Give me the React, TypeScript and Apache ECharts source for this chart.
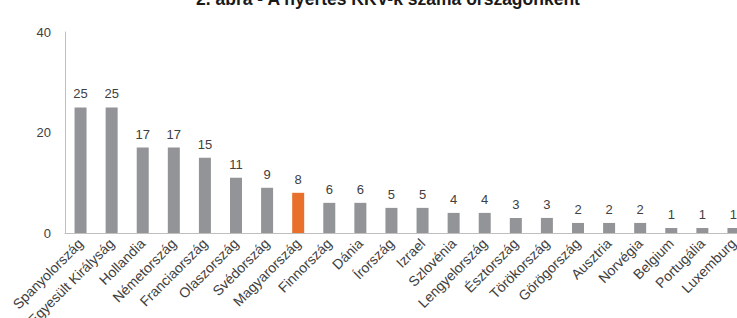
import React, { useEffect, useRef } from "react";
import * as echarts from "echarts";

const titleText = "2. ábra - A nyertes KKV-k száma országonként";
const countries = [
  "Spanyolország", "Egyesült Királyság", "Hollandia", "Németország", "Franciaország",
  "Olaszország", "Svédország", "Magyarország", "Finnország", "Dánia", "Írország",
  "Izrael", "Szlovénia", "Lengyelország", "Észtország", "Törökország", "Görögország",
  "Ausztria", "Norvégia", "Belgium", "Portugália", "Luxemburg",
];
const winners = [25, 25, 17, 17, 15, 11, 9, 8, 6, 6, 5, 5, 4, 4, 3, 3, 2, 2, 2, 1, 1, 1];
const highlight = "Magyarország";
const yTicks = [0, 20, 40];

export default function App() {
  const ref = useRef<HTMLDivElement>(null);
  useEffect(() => {
    if (!ref.current) return;
    const chart = echarts.init(ref.current, null, { renderer: "svg" });
    chart.setOption({
      animation: false,
      textStyle: { fontFamily: "Liberation Sans, Arial, sans-serif" },
      graphic: [
        {
          type: "text",
          x: 388,
          y: 8,
          style: {
            text: titleText,
            font: "bold 17.5px 'Liberation Sans', Arial, sans-serif",
            fill: "#1a1a1a",
            align: "center",
            verticalAlign: "bottom",
          },
        },
      ],
      grid: {
        left: 65,
        top: 32,
        right: 0,
        bottom: 85,
        containLabel: false,
        outerBoundsMode: "none",
      },
      xAxis: {
        type: "category",
        data: countries,
        axisLine: { lineStyle: { color: "#bfbfbf", width: 1 } },
        axisTick: { show: false },
        axisLabel: {
          interval: 0,
          rotate: 45,
          fontSize: 14,
          color: "#404040",
          margin: 8,
        },
      },
      yAxis: {
        type: "value",
        min: yTicks[0],
        max: yTicks[yTicks.length - 1],
        interval: 20,
        axisLine: { show: true, lineStyle: { color: "#bfbfbf", width: 1 } },
        axisTick: { show: false },
        splitLine: { show: false },
        axisLabel: { fontSize: 13, color: "#404040", margin: 14 },
      },
      series: [
        {
          type: "bar",
          barWidth: 12,
          data: winners.map((v, i) => ({
            value: v,
            itemStyle: { color: countries[i] === highlight ? "#e8702a" : "#939497" },
          })),
          label: {
            show: true,
            position: "top",
            distance: 7,
            fontSize: 13,
            color: "#404040",
          },
        },
      ],
    });
    return () => chart.dispose();
  }, []);
  return (
    <div style={{ width: 737, height: 318, position: "absolute", left: 0, top: 0, overflow: "hidden" }}>
      <div ref={ref} style={{ width: 749, height: 318 }} />
    </div>
  );
}
